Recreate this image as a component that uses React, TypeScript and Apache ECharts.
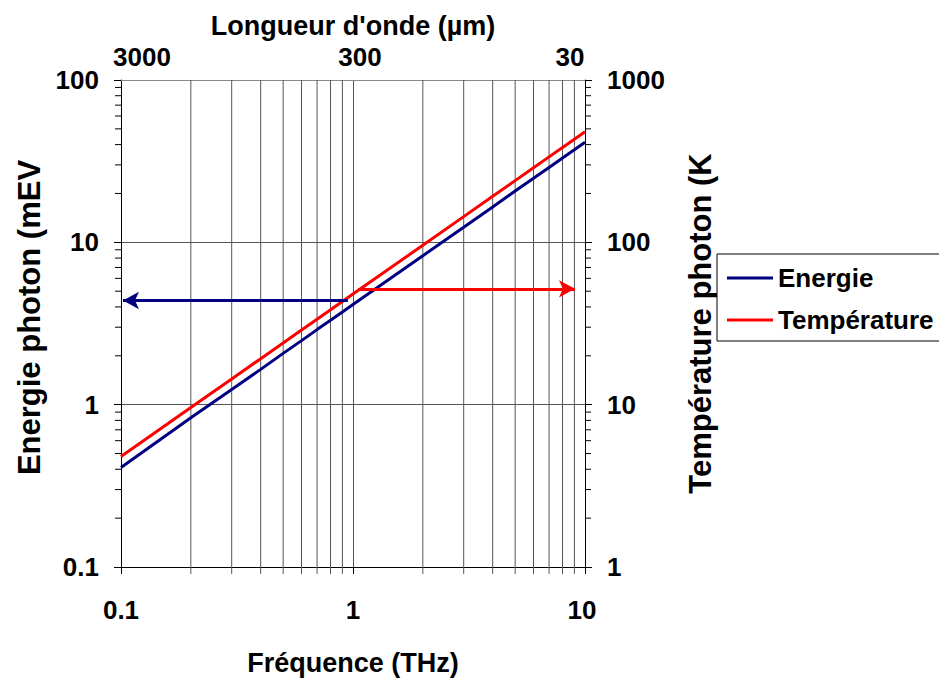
import React, { useEffect, useRef } from "react";
import * as echarts from "echarts";

const freqTHz = [0.1, 0.2, 0.3, 0.4, 0.5, 0.6, 0.7, 0.8, 0.9, 1, 2, 3, 4, 5, 6, 7, 8, 9, 10];
const energieMeV = [0.41, 0.83, 1.24, 1.65, 2.07, 2.48, 2.9, 3.31, 3.72, 4.14, 8.27, 12.4, 16.5, 20.7, 24.8, 28.9, 33.1, 37.2, 41.4];
const temperatureK = [4.8, 9.6, 14.4, 19.2, 24, 28.8, 33.6, 38.4, 43.2, 48, 96, 144, 192, 240, 288, 336, 384, 432, 480];
const topLabels: Record<string, string> = { "0.1": "3000", "1": "300", "10": "30" };
const minorFreq = [0.2, 0.3, 0.4, 0.5, 0.6, 0.7, 0.8, 0.9, 2, 3, 4, 5, 6, 7, 8, 9];
const minorEnergie = [0.2, 0.3, 0.4, 0.5, 0.6, 0.7, 0.8, 0.9, 2, 3, 4, 5, 6, 7, 8, 9, 20, 30, 40, 50, 60, 70, 80, 90];
const minorTemp = [2, 3, 4, 5, 6, 7, 8, 9, 20, 30, 40, 50, 60, 70, 80, 90, 200, 300, 400, 500, 600, 700, 800, 900];
const arrowEnergie = { from: 0.95, to: 0.102, value: 4.38 };
const arrowTemp = { from: 1.05, to: 9.05, value: 51.7 };

const FONT = "'Liberation Sans', Arial, sans-serif";
const GRID = "#555";

export default function App() {
  const ref = useRef<HTMLDivElement>(null);
  useEffect(() => {
    if (!ref.current) return;
    const chart = echarts.init(ref.current, null, { renderer: "svg", width: 939, height: 681 });
    const labelStyle = { fontFamily: FONT, fontWeight: "bold", fontSize: 26, color: "#000" };
    const option: any = {
      animation: false,
      backgroundColor: "#fff",
      textStyle: { fontFamily: FONT },
      grid: { left: 121, top: 80, width: 464, height: 492, containLabel: false },
      legend: {
        orient: "vertical",
        left: 717,
        top: 254,
        data: ["Energie", "Température"],
        icon: "rect",
        itemWidth: 46,
        itemHeight: 3,
        itemGap: 16,
        padding: [11, 10, 8, 10],
        borderColor: "#000",
        borderWidth: 1,
        backgroundColor: "#fff",
        textStyle: { fontFamily: FONT, fontWeight: "bold", fontSize: 26, color: "#000" },
      },
      xAxis: [
        {
          type: "log",
          logBase: 10,
          min: 0.1,
          max: 10,
          position: "bottom",
          name: "Fréquence (THz)",
          nameLocation: "middle",
          nameGap: 82,
          nameTextStyle: { fontFamily: FONT, fontWeight: "bold", fontSize: 27, color: "#000" },
          axisLine: { show: true, lineStyle: { color: "#000", width: 1 } },
          axisTick: { show: true, length: 7, lineStyle: { color: "#000" } },
          axisLabel: {
            ...labelStyle,
            margin: 30,
            formatter: (v: number) => (v > 5 ? "{c|" + v + "}" : "{b|" + v + "}"),
            rich: {
              b: { ...labelStyle },
              c: { ...labelStyle, padding: [0, 6, 0, 0] },
            },
          },
          splitLine: { show: true, lineStyle: { color: GRID, width: 1 } },
        },
        {
          type: "log",
          logBase: 10,
          min: 0.1,
          max: 10,
          position: "top",
          name: "Longueur d'onde (µm)",
          nameLocation: "middle",
          nameGap: 37,
          nameTextStyle: { fontFamily: FONT, fontWeight: "bold", fontSize: 27, color: "#000" },
          axisLine: { show: true, lineStyle: { color: "#888", width: 1 } },
          axisTick: { show: false },
          axisLabel: {
            ...labelStyle,
            margin: 10,
            formatter: (v: number) => {
              const t = topLabels[String(v)] ?? "";
              if (v < 0.5) return "{a|" + t + "}";
              if (v > 5) return "{c|" + t + "}";
              return "{b|" + t + "}";
            },
            rich: {
              a: { ...labelStyle, padding: [0, 0, 0, 42] },
              b: { ...labelStyle, padding: [0, 0, 0, 14] },
              c: { ...labelStyle, padding: [0, 30, 0, 0] },
            },
          },
          splitLine: { show: false },
        },
      ],
      yAxis: [
        {
          type: "log",
          logBase: 10,
          min: 0.1,
          max: 100,
          position: "left",
          name: "Energie photon (mEV",
          nameLocation: "middle",
          nameGap: 76,
          nameRotate: 90,
          nameTextStyle: { fontFamily: FONT, fontWeight: "bold", fontSize: 31, color: "#000", padding: [0, 0, 0, 12] },
          axisLine: { show: true, lineStyle: { color: "#000", width: 1 } },
          axisTick: { show: true, length: 7, lineStyle: { color: "#000" } },
          axisLabel: { ...labelStyle, margin: 22, formatter: (v: number) => String(v) },
          splitLine: { show: true, lineStyle: { color: GRID, width: 1 } },
        },
        {
          type: "log",
          logBase: 10,
          min: 1,
          max: 1000,
          position: "right",
          name: "Température photon (K",
          nameLocation: "middle",
          nameGap: 100,
          nameRotate: 90,
          nameTextStyle: { fontFamily: FONT, fontWeight: "bold", fontSize: 31, color: "#000" },
          axisLine: { show: true, lineStyle: { color: "#000", width: 1 } },
          axisTick: { show: true, length: 7, lineStyle: { color: "#000" } },
          axisLabel: { ...labelStyle, margin: 22, formatter: (v: number) => String(v) },
          splitLine: { show: false },
        },
      ],
      series: [
        {
          name: "minorX",
          type: "custom",
          xAxisIndex: 0,
          yAxisIndex: 0,
          clip: false,
          silent: true,
          data: minorFreq.map((f) => [f, 1]),
          renderItem: (_p: any, api: any) => {
            const x = api.value(0);
            const top = api.coord([x, 100]);
            const bot = api.coord([x, 0.1]);
            return {
              type: "line",
              shape: { x1: top[0], y1: top[1], x2: bot[0], y2: bot[1] + 7 },
              style: { stroke: GRID, lineWidth: 1 },
            };
          },
          z: 1,
        },
        {
          name: "minorY",
          type: "custom",
          xAxisIndex: 0,
          yAxisIndex: 0,
          clip: false,
          silent: true,
          data: minorEnergie.map((v) => [0.1, v]),
          renderItem: (_p: any, api: any) => {
            const p = api.coord([0.1, api.value(1)]);
            return {
              type: "line",
              shape: { x1: p[0] - 6, y1: p[1], x2: p[0], y2: p[1] },
              style: { stroke: "#000", lineWidth: 1 },
            };
          },
          z: 1,
        },
        {
          name: "minorY2",
          type: "custom",
          xAxisIndex: 0,
          yAxisIndex: 1,
          clip: false,
          silent: true,
          data: minorTemp.map((v) => [10, v]),
          renderItem: (_p: any, api: any) => {
            const p = api.coord([10, api.value(1)]);
            return {
              type: "line",
              shape: { x1: p[0], y1: p[1], x2: p[0] + 6, y2: p[1] },
              style: { stroke: "#000", lineWidth: 1 },
            };
          },
          z: 1,
        },
        {
          name: "Energie",
          type: "line",
          xAxisIndex: 0,
          yAxisIndex: 0,
          data: freqTHz.map((f, i) => [f, energieMeV[i]]),
          showSymbol: false,
          symbol: "none",
          color: "#000080",
          lineStyle: { color: "#000080", width: 3 },
          z: 3,
          markLine: {
            silent: true,
            symbol: ["none", "arrow"],
            symbolSize: [13, 16],
            label: { show: false },
            lineStyle: { color: "#000080", width: 3, type: "solid" },
            data: [[{ coord: [arrowEnergie.from, arrowEnergie.value] }, { coord: [arrowEnergie.to, arrowEnergie.value] }]],
          },
        },
        {
          name: "Température",
          type: "line",
          xAxisIndex: 0,
          yAxisIndex: 1,
          data: freqTHz.map((f, i) => [f, temperatureK[i]]),
          showSymbol: false,
          symbol: "none",
          color: "#ff0000",
          lineStyle: { color: "#ff0000", width: 3 },
          z: 3,
          markLine: {
            silent: true,
            symbol: ["none", "arrow"],
            symbolSize: [13, 16],
            label: { show: false },
            lineStyle: { color: "#ff0000", width: 3, type: "solid" },
            data: [[{ coord: [arrowTemp.from, arrowTemp.value] }, { coord: [arrowTemp.to, arrowTemp.value] }]],
          },
        },
      ],
    };
    chart.setOption(option);
    return () => chart.dispose();
  }, []);
  return <div ref={ref} style={{ position: "fixed", left: 0, top: 0, width: 939, height: 681 }} />;
}
